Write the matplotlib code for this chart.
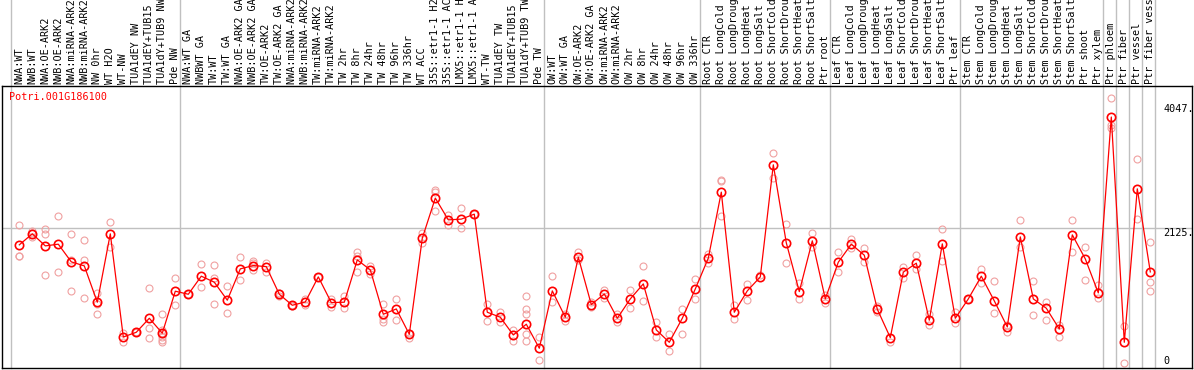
import matplotlib
matplotlib.use("Agg")
import matplotlib.pyplot as plt
import matplotlib.transforms as mtransforms
import numpy as np

W, H = 1194, 370
GENE = "Potri.001G186100"

LABELS = [
    "NWA:WT", "NWB:WT", "NWA:OE-ARK2", "NWB:OE-ARK2", "NWA:miRNA-ARK2",
    "NWB:miRNA-ARK2", "NW 0hr", "WT H2O", "WT-NW", "TUA1dEY NW",
    "TUA1dEY+TUB15 NW", "TUA1dY+TUB9 NW", "Pde NW",
    "NWA:WT GA", "NWBWT GA", "TW:WT", "TW:WT GA", "NWA:OE-ARK2 GA",
    "NWB:OE-ARK2 GA", "TW:OE-ARK2", "TW:OE-ARK2 GA", "NWA:miRNA-ARK2 GA",
    "NWB:miRNA-ARK2 GA", "TW:miRNA-ARK2", "TW:miRNA-ARK2 GA", "TW 2hr",
    "TW 8hr", "TW 24hr", "TW 48hr", "TW 96hr", "TW 336hr", "WT ACC",
    "35S::etr1-1 H2O", "35S::etr1-1 ACC", "LMX5::etr1-1 H2O",
    "LMX5::etr1-1 ACC", "WT-TW", "TUA1dEY TW", "TUA1dEY+TUB15 TW",
    "TUA1dY+TUB9 TW", "Pde TW",
    "OW:WT", "OW:WT GA", "OW:OE-ARK2", "OW:OE-ARK2 GA", "OW:miRNA-ARK2",
    "OW:miRNA-ARK2 GA", "OW 2hr", "OW 8hr", "OW 24hr", "OW 48hr", "OW 96hr",
    "OW 336hr",
    "Root CTR", "Root LongCold", "Root LongDrought", "Root LongHeat",
    "Root LongSalt", "Root ShortCold", "Root ShortDrought", "Root ShortHeat",
    "Root ShortSalt", "Ptr root",
    "Leaf CTR", "Leaf LongCold", "Leaf LongDrought", "Leaf LongHeat",
    "Leaf LongSalt", "Leaf ShortCold", "Leaf ShortDrought", "Leaf ShortHeat",
    "Leaf ShortSalt", "Ptr leaf",
    "Stem CTR", "Stem LongCold", "Stem LongDrought", "Stem LongHeat",
    "Stem LongSalt", "Stem ShortCold", "Stem ShortDrought", "Stem ShortHeat",
    "Stem ShortSalt", "Ptr shoot", "Ptr xylem",
    "Ptr phloem", "Ptr fiber", "Ptr vessel", "Ptr fiber vessel",
]

# first sample index of each group (vertical separators)
GROUP_STARTS = [0, 13, 41, 53, 63, 73, 84, 85, 86, 87, 88]

MEANS = [
    1871, 2041, 1855, 1881, 1608, 1546, 985, 2041, 448, 521,
    737, 506, 1155, 1108, 1387, 1294, 1016, 1500, 1551, 1535,
    1108, 938, 989, 1376, 979, 985, 1639, 1484, 799, 881,
    490, 1974, 2593, 2257, 2268, 2345, 830, 753, 479, 645,
    274, 1160, 753, 1680, 948, 1113, 737, 1036, 1268, 557,
    366, 737, 1190, 1665, 2685, 830, 1160, 1376, 3107, 1902,
    1149, 1933, 1036, 1603, 1881, 1711, 877, 438, 1449, 1588,
    707, 1886, 737, 1036, 1387, 1005, 603, 1994, 1036, 892,
    572, 2025, 1654, 1129, 3845, 366, 2736, 1453,
]

REPLICATES = [
    [2180, 1706, 1696], [2092, 2061, 1999], [2123, 2036, 1402], [2319, 1453],
    [2041, 1644, 1160], [1943, 1644, 1046], [1124, 954, 804], [2221, 1835],
    [505, 366], [521, 521], [1201, 588, 428], [804, 557, 505, 454, 402, 366],
    [1356, 943], [1108], [1577, 1222], [1562, 1366, 959], [1232, 814],
    [1685, 1325], [1629, 1587, 1484], [1598, 1448], [1134, 1082], [943, 928],
    [1036, 943], [1376], [1031, 907], [1088, 892], [1768, 1706, 1448],
    [1551, 1417], [954, 722, 675], [1036, 711],
    [505, 428], [2051, 1897], [2711, 2680, 2391], [2335, 2170], [2438, 2129],
    [2345], [954, 696], [830, 675], [557, 392], [1082, 881, 799, 490, 392],
    [454, 93], [1392, 995], [804, 701], [1757, 1639], [995, 918], [1175, 1046],
    [804, 675], [1175, 892], [1551, 1005], [675, 454], [490, 237], [881, 490],
    [1345, 1036], [1732, 1587], [2876, 2860, 2324], [943, 722], [1268, 1021],
    [1407], [3288, 2901], [2190, 1587], [1289, 1031],
    [2051, 1845], [1098, 969], [1768, 1459], [1964, 1819], [1819, 1603],
    [928, 830], [366], [1536, 1366], [1716, 1500], [804, 634], [2113, 1629],
    [840, 660], [1036], [1500, 1289], [1314, 814], [634, 521], [2257, 1845],
    [1314, 789], [995, 711], [634, 454], [2247, 1757], [1845, 1330],
    [1252, 1046], [4138, 3726, 3674], [619, 42], [3200, 2268],
    [1912, 1294, 1160],
]

Y_TICKS = [(4047, "4047."), (2125, "2125."), (0, "0")]
Y_MIN, Y_MAX = -31, 4324

MONO = "DejaVu Sans Mono"
GRID = "#c0c0c0"
REP_COLOR = "#f0a0a0"

fig = plt.figure(figsize=(W / 100, H / 100), dpi=100)
ax_l, ax_r, ax_t, ax_b = 1.5, 1192, 86, 368
ax = fig.add_axes([ax_l / W, 1 - ax_b / H, (ax_r - ax_l) / W, (ax_b - ax_t) / H])

px_per_unit = 13.0
x0 = -(19.3 - ax_l) / px_per_unit
ax.set_xlim(x0, x0 + (ax_r - ax_l) / px_per_unit)
ax.set_ylim(Y_MIN, Y_MAX)

xs = np.arange(len(LABELS))

# group separators, running up through the label area
trans_xa = mtransforms.blended_transform_factory(ax.transData, ax.transAxes)
top_frac = (ax_b) / (ax_b - ax_t)
for b in GROUP_STARTS:
    ax.plot([b - 0.64, b - 0.64], [0, top_frac], color=GRID, lw=1.0,
            transform=trans_xa, clip_on=False, zorder=0)
ax.axhline(2125, color=GRID, lw=1.0, zorder=0)

# replicates
rx = [i for i, reps in enumerate(REPLICATES) for _ in reps]
ry = [v for reps in REPLICATES for v in reps]
ax.plot(rx, ry, linestyle="none", marker="o", markersize=5.0,
        markerfacecolor="none", markeredgecolor=REP_COLOR,
        markeredgewidth=0.8, zorder=2)

# means
ax.plot(xs, MEANS, color="red", lw=0.9, zorder=3)
ax.plot(xs, MEANS, linestyle="none", marker="o", markersize=6.0,
        markerfacecolor="none", markeredgecolor="red",
        markeredgewidth=1.2, zorder=4)

# sample labels above the plot
lab_trans = mtransforms.offset_copy(trans_xa, fig=fig, x=0, y=2.5, units="dots")
for i, lab in enumerate(LABELS):
    ax.text(i, 1.0, lab, rotation=90, ha="center", va="bottom",
            family=MONO, fontsize=7.3, transform=lab_trans, clip_on=False)

# value labels on the right, inside the plot
trans_ay = mtransforms.blended_transform_factory(ax.transAxes, ax.transData)
xf = (1163 - ax_l) / (ax_r - ax_l)
for val, txt in Y_TICKS:
    ax.text(xf, val, txt, ha="left", va="bottom" if val == 0 else "top",
            family=MONO, fontsize=7.3, transform=trans_ay)

fig.text(9 / W, 1 - 92 / H, GENE, color="red", family=MONO, fontsize=7.3,
         ha="left", va="top")

ax.set_xticks([])
ax.set_yticks([])
for sp in ax.spines.values():
    sp.set_color("black")
    sp.set_linewidth(1.0)

fig.savefig("out.png", dpi=100)
